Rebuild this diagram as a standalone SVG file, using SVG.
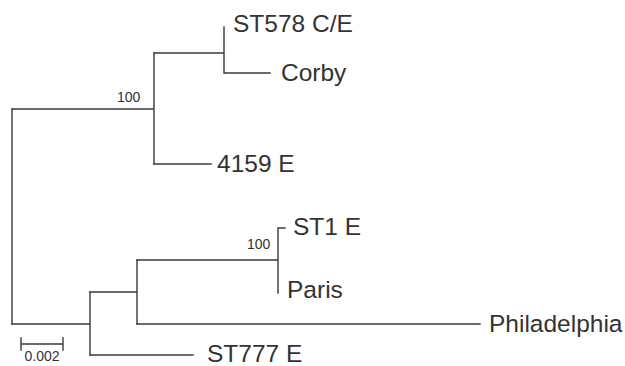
<svg xmlns="http://www.w3.org/2000/svg" width="625" height="366" viewBox="0 0 625 366">
<style>
.br{fill:none;stroke:#3a3a3a;stroke-width:1.4;stroke-linecap:square}
.lb{font-family:"Liberation Sans",Arial,sans-serif;font-size:24.5px;fill:#333}
.bs{font-family:"Liberation Sans",Arial,sans-serif;font-size:14px;fill:#333}
</style>
<rect width="625" height="366" fill="#fff"/>
<g id="connectors">
<path class="br" d="M12,109V324"/>
<path class="br" d="M12,109H154M154,53V164"/>
<path class="br" d="M154,53H224M224,27V73M224,73H270"/>
<path class="br" d="M154,164H211"/>
<path class="br" d="M12,324H90M90,292V355"/>
<path class="br" d="M90,292H137M137,260V324"/>
<path class="br" d="M137,260H278M278,228V293M278,228H285"/>
<path class="br" d="M137,324H480"/>
<path class="br" d="M90,355H193"/>
</g>
<g id="n-st578"><text class="lb" x="233" y="32">ST578 C/E</text></g>
<g id="n-corby"><text class="lb" x="281" y="81">Corby</text></g>
<g id="n-4159"><text class="lb" x="217" y="172">4159 E</text></g>
<g id="n-st1"><text class="lb" x="293" y="235">ST1 E</text></g>
<g id="n-paris"><text class="lb" x="287" y="298">Paris</text></g>
<g id="n-phil"><text class="lb" x="489" y="332">Philadelphia</text></g>
<g id="n-st777"><text class="lb" x="207" y="362">ST777 E</text></g>
<g id="bootstrap">
<text class="bs" x="117" y="102">100</text>
<text class="bs" x="247" y="249">100</text>
</g>
<g id="scalebar">
<path class="br" d="M21,344H63M21,338V350M63,338V350"/>
<text class="bs" x="42" y="361" text-anchor="middle" font-size="14.5">0.002</text>
</g>
</svg>
